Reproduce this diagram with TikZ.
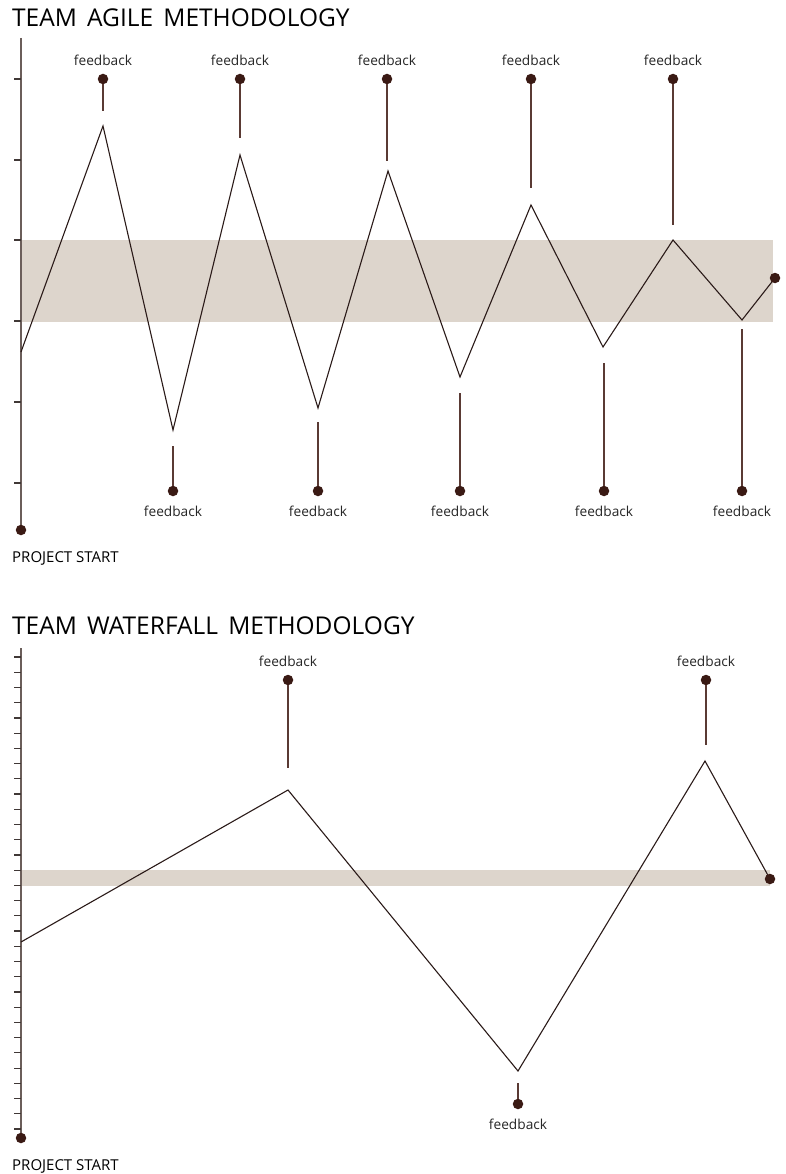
\documentclass[tikz,border=0pt]{standalone}
\usepackage{fontspec}
\setmainfont{Open Sans}
\newfontfamily\titlefont[WordSpace=1.6]{Open Sans}
\definecolor{axiscol}{HTML}{6B5E5A}
\definecolor{bandcol}{HTML}{DDD5CC}
\definecolor{dotcol}{HTML}{3A1A14}
\definecolor{fbline}{HTML}{5A3A34}
\definecolor{zigcol}{HTML}{2A1A18}
\tikzset{
  axis/.style={draw=axiscol, line width=1.3pt},
  tick/.style={draw=axiscol!60!black, line width=1.2pt},
  band/.style={fill=bandcol, draw=none},
  fbdot/.style={circle, fill=dotcol, inner sep=0pt, minimum size=10.5pt},
  fbstem/.style={draw=fbline, line width=1.1pt},
  zig/.style={draw=zigcol, line width=1.1pt, line join=miter},
  fblabel/.style={font=\fontsize{13.7}{13.7}\selectfont, text=black!85, inner sep=0pt},
  title/.style={font=\titlefont\fontsize{24.5}{24.5}\selectfont, anchor=west, inner sep=0pt, text=black},
  startlabel/.style={font=\fontsize{15}{15}\selectfont, anchor=west, inner sep=0pt, text=black},
}
\begin{document}
\begin{tikzpicture}[x=1pt,y=-1pt]
\useasboundingbox (0,0) rectangle (786,1174);
% ===== Agile =====
\node[title] (t1) at (12,18) {TEAM AGILE METHODOLOGY};
\fill[band] (21,240) rectangle (773,322);
\draw[axis] (21,38) -- (21,530);
\foreach \y in {79,160,240,321,402,483} \draw[tick] (14,\y) -- (21,\y);
\node[fbdot] (s1) at (21,530) {};
\node[startlabel] (sl1) at (12,558) {PROJECT START};
\draw[zig] (21,352) -- (103,126) -- (173,430) -- (240,155) -- (318,408) -- (388,171) -- (460,377) -- (531,205) -- (603,347) -- (673,240) -- (742,320) -- (775,278);
\node[fbdot] (e1) at (775,278) {};
% top feedbacks
\foreach \n/\x/\e in {a/103/111, b/240/138, c/387/161, d/531/188, e/673/225}{
  \node[fbdot] (u\n) at (\x,79) {};
  \coordinate (ue\n) at (\x,\e);
  \draw[fbstem] (u\n) -- (ue\n);
  \node[fblabel] (ul\n) at (\x,60) {feedback};
}
% bottom feedbacks
\foreach \n/\x/\e in {a/173/446, b/318/422, c/460/393, d/604/363, e/742/329}{
  \node[fbdot] (d\n) at (\x,491) {};
  \coordinate (de\n) at (\x,\e);
  \draw[fbstem] (d\n) -- (de\n);
  \node[fblabel] (dl\n) at (\x,511) {feedback};
}
% ===== Waterfall =====
\node[title] (t2) at (12,626) {TEAM WATERFALL METHODOLOGY};
\fill[band] (21,870) rectangle (770,886);
\draw[axis] (21,648) -- (21,1138);
\foreach \i in {0,...,31} \draw[tick] (14,{657+\i*15.226}) -- (21,{657+\i*15.226});
\node[fbdot] (s2) at (21,1138) {};
\node[startlabel] (sl2) at (12,1166) {PROJECT START};
\draw[zig] (21,942) -- (288,790) -- (518,1071) -- (705,761) -- (770,879);
\node[fbdot] (e2) at (770,879) {};
\foreach \n/\x/\e in {a/288/768, b/706/745}{
  \node[fbdot] (w\n) at (\x,680) {};
  \coordinate (we\n) at (\x,\e);
  \draw[fbstem] (w\n) -- (we\n);
  \node[fblabel] (wl\n) at (\x,661) {feedback};
}
\node[fbdot] (wc) at (518,1104) {};
\coordinate (wce) at (518,1083);
\draw[fbstem] (wc) -- (wce);
\node[fblabel] (wlc) at (518,1124) {feedback};
\end{tikzpicture}
\end{document}
